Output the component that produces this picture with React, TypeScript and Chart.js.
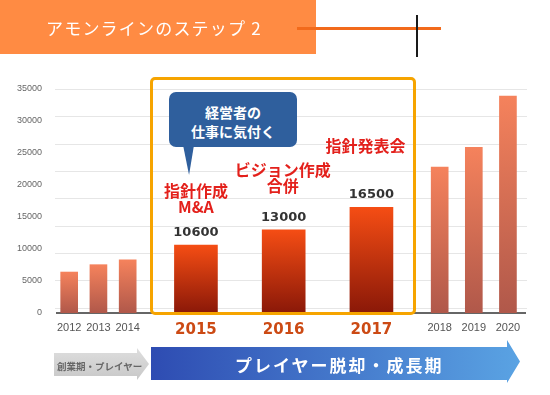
import React, { useEffect, useRef } from 'react';
import { Chart, registerables } from 'chart.js';

Chart.register(...registerables);

// ---- data ----
const years = ['2012', '2013', '2014', '2015', '2016', '2017', '2018', '2019', '2020'];
const values = [6400, 7550, 8300, 10600, 13000, 16500, 22800, 25900, 33900];
const highlightYears = ['2015', '2016', '2017'];
const annotationLines = [['指針作成', 'M&A'], ['ビジョン作成', '合併'], ['指針発表会']];
const yMax = 35000;
const yStep = 5000;

// ---- layout of the category axis (slot index of each year on a fine grid) ----
const SLOTS = 96;
const slotOf = [2, 8, 14, 28, 46, 64, 78, 85, 92];
// annotation placement relative to the bar top (px above, px sideways)
const annoLift = [38, 44, 61];
const annoShift = [0, -1, -6];
// decorative background rules (9 evenly spaced lines, independent of the tick labels)
const RULES = 9;
const RULE_BOTTOM_INSET = 0.2;

const JP = "'Noto Sans CJK JP', 'Noto Sans', sans-serif";

const labels: string[] = Array.from({ length: SLOTS }, (_, i) => {
  const k = slotOf.indexOf(i);
  return k >= 0 ? years[k] : '';
});
const normalData = labels.map((l) => {
  const k = years.indexOf(l);
  return k >= 0 && !highlightYears.includes(l) ? values[k] : null;
});
const highData = labels.map((l) => {
  const k = years.indexOf(l);
  return k >= 0 && highlightYears.includes(l) ? values[k] : null;
});

const grad = (top: string, bottom: string) => (c: any) => {
  const chart = c.chart;
  const ys = chart.scales && chart.scales.y;
  const v = c.raw;
  if (c.type !== 'data' || v == null || !ys) return top;
  const y0 = ys.getPixelForValue(v);
  const y1 = ys.getPixelForValue(0);
  if (!isFinite(y0) || !isFinite(y1) || y0 === y1) return top;
  const g = chart.ctx.createLinearGradient(0, y0, 0, y1);
  g.addColorStop(0, top);
  g.addColorStop(1, bottom);
  return g;
};

const rulesPlugin = {
  id: 'rules',
  beforeDatasetsDraw(chart: any) {
    const { ctx, chartArea } = chart;
    const { left, right, top, bottom } = chartArea;
    const n = RULES - 1;
    const span = (bottom - top) / (n + RULE_BOTTOM_INSET);
    ctx.save();
    ctx.strokeStyle = '#e6e6e6';
    ctx.lineWidth = 1;
    for (let k = 0; k <= n; k++) {
      const y = Math.round(bottom - (k + RULE_BOTTOM_INSET) * span) + 0.5;
      ctx.beginPath();
      ctx.moveTo(left - 2, y);
      ctx.lineTo(right + 2, y);
      ctx.stroke();
    }
    ctx.restore();
  },
};

const labelPlugin = {
  id: 'barLabels',
  afterDatasetsDraw(chart: any) {
    const ctx = chart.ctx;
    const meta = chart.getDatasetMeta(1);
    const data = chart.data.datasets[1].data;
    let k = 0;
    meta.data.forEach((el: any, i: number) => {
      const v = data[i];
      if (v == null) return;
      ctx.save();
      ctx.textAlign = 'center';
      ctx.textBaseline = 'bottom';
      ctx.fillStyle = '#333';
      ctx.font = "bold 13px 'DejaVu Sans', sans-serif";
      ctx.fillText(String(v), el.x, el.y - 6);
      const lines = annotationLines[k] || [];
      ctx.fillStyle = '#e3201b';
      ctx.font = `bold 16px ${JP}`;
      ctx.textBaseline = 'middle';
      const lh = 16;
      lines.forEach((t, j) => {
        const yy = el.y - annoLift[k] - (lines.length - 1 - j) * lh;
        ctx.fillText(t, el.x + annoShift[k], yy);
      });
      ctx.restore();
      k++;
    });
  },
};

export default function App() {
  const ref = useRef<HTMLCanvasElement>(null);
  useEffect(() => {
    const chart = new Chart(ref.current as HTMLCanvasElement, {
      type: 'bar',
      data: {
        labels,
        datasets: [
          {
            data: normalData as any,
            barThickness: 17,
            grouped: false,
            backgroundColor: grad('#f5825c', '#b0584a') as any,
          },
          {
            data: highData as any,
            barThickness: 43,
            grouped: false,
            backgroundColor: grad('#f54d14', '#8a1808') as any,
          },
        ],
      },
      options: {
        animation: false,
        responsive: false,
        maintainAspectRatio: false,
        layout: { padding: { top: 89, right: 25, bottom: 52, left: 0 } },
        plugins: { legend: { display: false }, tooltip: { enabled: false } },
        scales: {
          x: {
            offset: true,
            grid: { display: false },
            border: { display: true, color: '#666', width: 2 },
            ticks: {
              autoSkip: false,
              maxRotation: 0,
              minRotation: 0,
              padding: 0,
              font: (c: any) =>
                highlightYears.includes(labels[c.index])
                  ? { family: "'DejaVu Sans', sans-serif", size: 15, weight: 'bold' }
                  : { family: "'Liberation Sans', sans-serif", size: 11 },
              color: (c: any) => (highlightYears.includes(labels[c.index]) ? '#cc4a14' : '#555'),
            },
            afterFit: (s: any) => {
              s.height = 30;
            },
          } as any,
          y: {
            min: 0,
            max: yMax,
            ticks: {
              stepSize: yStep,
              padding: 7,
              color: '#666',
              font: { family: "'Liberation Sans', sans-serif", size: 9 },
              callback: (v: any) => String(v),
            },
            grid: { display: false },
            border: { display: false },
            afterFit: (s: any) => {
              s.width = 57;
            },
          } as any,
        },
      },
      plugins: [rulesPlugin, labelPlugin],
    });
    return () => chart.destroy();
  }, []);

  const abs = (o: any) => ({ position: 'absolute', ...o } as React.CSSProperties);

  return (
    <div style={abs({ left: 0, top: 0, width: 550, height: 395, overflow: 'hidden', background: '#fff', fontFamily: JP })}>
      <canvas ref={ref} width={550} height={395} style={abs({ left: 0, top: 0, width: 550, height: 395 })} />
      {/* title banner */}
      <div style={abs({ left: 0, top: 0, width: 316, height: 54, background: '#ff8b43' })} />
      <div style={abs({ left: 46, top: 17, fontSize: 17, lineHeight: '22px', letterSpacing: 1.2, color: '#fff', whiteSpace: 'nowrap' })}>
        アモンラインのステップ&nbsp;2
      </div>
      <div style={abs({ left: 297, top: 27, width: 144, height: 3, background: '#f26a1b' })} />
      <div style={abs({ left: 416, top: 15, width: 2, height: 42, background: '#1a1a1a' })} />
      {/* highlight frame */}
      <div
        style={abs({
          left: 150,
          top: 77,
          width: 266,
          height: 238,
          border: '3px solid #f6a400',
          borderRadius: 5,
          boxSizing: 'border-box',
        })}
      />
      {/* callout */}
      <div style={abs({ left: 183, top: 145, width: 11, height: 30, background: '#2f5f9d', clipPath: 'polygon(0 0, 100% 0, 55% 100%)' })} />
      <div
        style={abs({
          left: 169,
          top: 92,
          width: 128,
          height: 55,
          background: '#2f5f9d',
          borderRadius: 7,
          color: '#fff',
          fontWeight: 700,
          fontSize: 14,
          lineHeight: '18.5px',
          textAlign: 'center',
          paddingTop: 11,
          boxSizing: 'border-box',
        })}
      >
        経営者の
        <br />
        仕事に気付く
      </div>
      {/* bottom arrows */}
      <div
        style={abs({
          left: 54,
          top: 348,
          width: 95,
          height: 32,
          background: 'linear-gradient(#dedede, #c8c8c8)',
          clipPath: 'polygon(0 5px, 83px 5px, 83px 0, 95px 16px, 83px 32px, 83px 28px, 0 28px)',
        })}
      />
      <div style={abs({ left: 57, top: 359, fontSize: 9.5, lineHeight: '14px', color: '#666', fontWeight: 700, whiteSpace: 'nowrap' })}>
        創業期・プレイヤー
      </div>
      <div
        style={abs({
          left: 151,
          top: 340,
          width: 369,
          height: 43,
          background: 'linear-gradient(to right, #2e4cb2, #5aa3e3)',
          clipPath: 'polygon(0 7px, 356px 7px, 356px 0, 369px 21.5px, 356px 43px, 356px 40px, 0 40px)',
        })}
      />
      <div
        style={abs({
          left: 235,
          top: 353,
          fontSize: 17,
          lineHeight: '24px',
          color: '#fff',
          fontWeight: 700,
          letterSpacing: 2,
          whiteSpace: 'nowrap',
        })}
      >
        プレイヤー脱却・成長期
      </div>
    </div>
  );
}
